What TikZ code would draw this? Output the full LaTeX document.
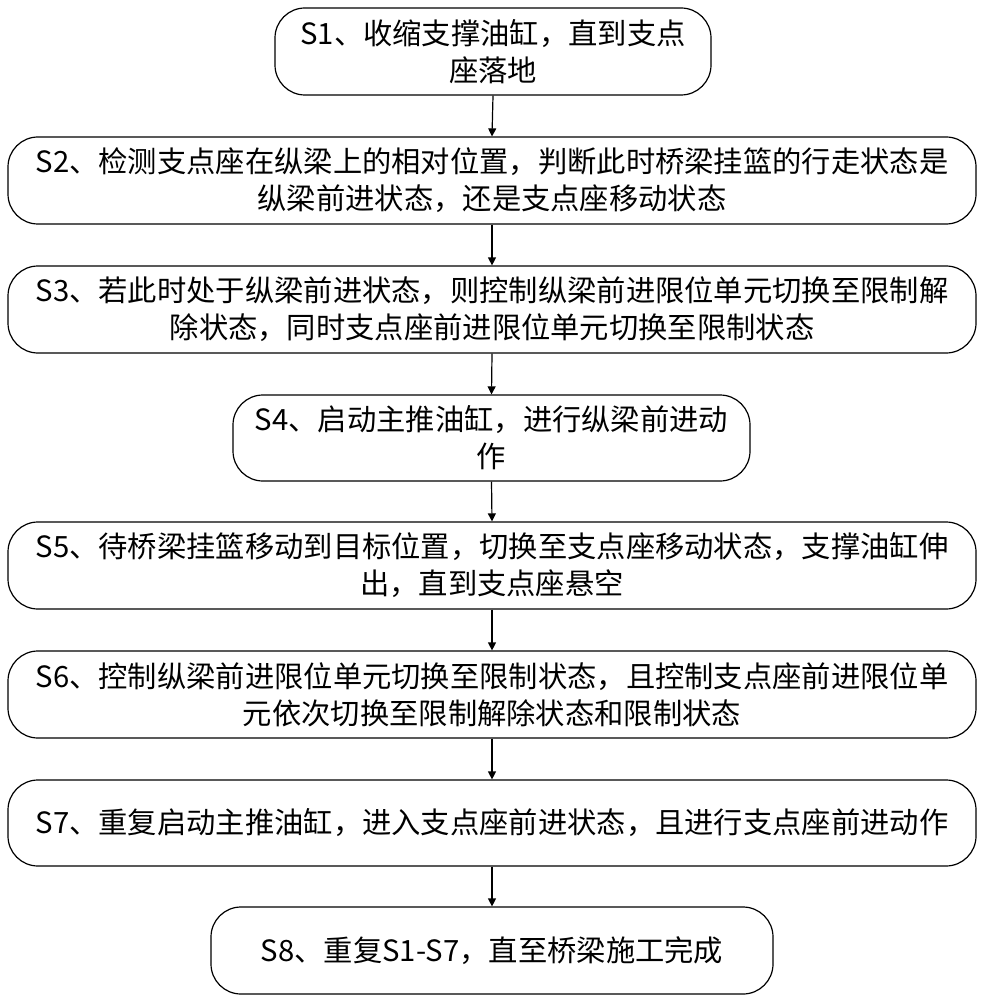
\documentclass[tikz,border=0pt]{standalone}
\usepackage{fontspec}
\setmainfont{Noto Sans CJK SC}
\usetikzlibrary{arrows.meta}
\begin{document}
\begin{tikzpicture}[x=1pt,y=-1pt,
  stepbox/.style={draw,line width=1.2pt,rounded corners=30pt,align=center,font=\fontsize{29.3}{37}\selectfont,inner sep=0pt},
  arr/.style={-{Triangle[length=8pt,width=8pt]},line width=1.2pt}]
\useasboundingbox (0,0) rectangle (986,1000);
\newcommand\bx[6]{\node[stepbox,minimum width=#4-#2,minimum height=#5-#3] (#1) at ({(#2+#4)/2},{(#3+#5)/2}) {#6};}
\bx{s1}{275}{8}{711}{95}{S1、收缩支撑油缸，直到支点\\座落地}
\bx{s2}{8}{137}{976}{224}{S2、检测支点座在纵梁上的相对位置，判断此时桥梁挂篮的行走状态是\\纵梁前进状态，还是支点座移动状态}
\bx{s3}{8}{266}{976}{353}{S3、若此时处于纵梁前进状态，则控制纵梁前进限位单元切换至限制解\\除状态，同时支点座前进限位单元切换至限制状态}
\bx{s4}{233}{395}{750}{481}{S4、启动主推油缸，进行纵梁前进动\\作}
\bx{s5}{8}{522}{976}{609}{S5、待桥梁挂篮移动到目标位置，切换至支点座移动状态，支撑油缸伸\\出，直到支点座悬空}
\bx{s6}{8}{651}{976}{738}{S6、控制纵梁前进限位单元切换至限制状态，且控制支点座前进限位单\\元依次切换至限制解除状态和限制状态}
\bx{s7}{8}{780}{976}{866}{S7、重复启动主推油缸，进入支点座前进状态，且进行支点座前进动作}
\bx{s8}{211}{907}{773}{994}{S8、重复S1-S7，直至桥梁施工完成}
\foreach \a/\b in {s1/s2,s2/s3,s3/s4,s4/s5,s5/s6,s6/s7,s7/s8}
  \draw[arr] (\a.south) -- (\b.north);
\end{tikzpicture}
\end{document}
